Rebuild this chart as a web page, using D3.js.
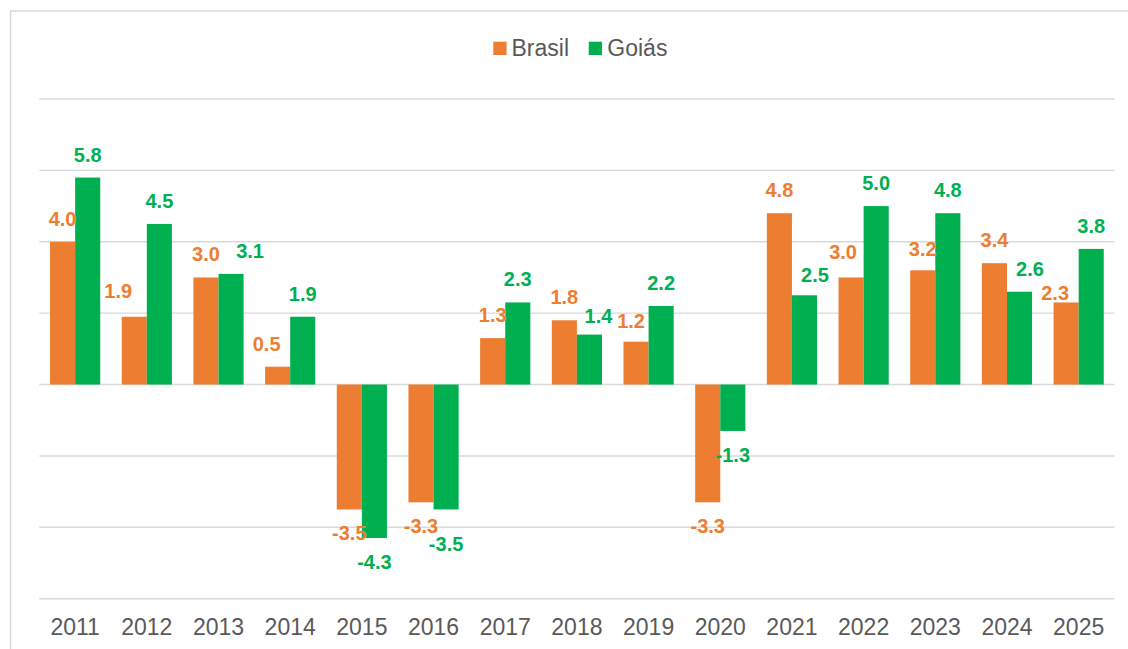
<!DOCTYPE html>
<html>
<head>
<meta charset="utf-8">
<script src="https://cdn.jsdelivr.net/npm/d3@7"></script>
<style>
  html, body { margin: 0; padding: 0; background: #fff; }
  svg { display: block; font-family: "Liberation Sans", Arial, sans-serif; }
</style>
</head>
<body>
<svg id="chart" width="1128" height="649"></svg>
<script>
// ---- data ----
const years = ["2011","2012","2013","2014","2015","2016","2017","2018","2019","2020","2021","2022","2023","2024","2025"];
const seriesNames = ["Brasil", "Goiás"];
const brasil = [4.0, 1.9, 3.0, 0.5, -3.5, -3.3, 1.3, 1.8, 1.2, -3.3, 4.8, 3.0, 3.2, 3.4, 2.3];
const goias  = [5.8, 4.5, 3.1, 1.9, -4.3, -3.5, 2.3, 1.4, 2.2, -1.3, 2.5, 5.0, 4.8, 2.6, 3.8];
const yTicks = [-6, -4, -2, 0, 2, 4, 6, 8];

// label nudges (manual placement in the original), px
const brasilLabelDx = [0, -16, 0, -11, 0, 0, 0, 0, -5, 0, 0, -8, 0, 0, -11];
const brasilLabelDy = [0, -2.5, 0, 0, 0, 0, 0, 0, 2.5, 0, 0, -2, 1.5, 0, 13.5];
const goiasLabelDx  = [0, 0, 19, 0, 0, 0, 0, 9, 0, 0, 10.5, 0, 0, 10.5, 0];
const goiasLabelDy  = [0, 0, 0, 0, 0, 11, 0, 4, 0, 0, 2.5, 0, 0, 0, 0];

const colors = { "Brasil": "#ED7D31", "Goiás": "#00B050" };

// ---- layout ----
const svg = d3.select("#chart");
const plotLeft = 39.3, plotRight = 1114.5, plotTop = 99, plotBottom = 598.7;

// frame
svg.append("rect")
  .attr("x", 10.5).attr("y", 11).attr("width", 1140).attr("height", 700)
  .attr("fill", "none").attr("stroke", "#d9d9d9").attr("stroke-width", 1.5);

const x = d3.scaleBand().domain(years).range([plotLeft, plotRight])
  .paddingInner(0.3).paddingOuter(0.15);
const x1 = d3.scaleBand().domain(seriesNames).range([0, x.bandwidth()]).padding(0);
const y = d3.scaleLinear().domain([-6, 8]).range([plotBottom, plotTop]);

// gridlines
svg.append("g").selectAll("line").data(yTicks).join("line")
  .attr("x1", plotLeft).attr("x2", plotRight)
  .attr("y1", d => y(d)).attr("y2", d => y(d))
  .attr("stroke", "#d9d9d9").attr("stroke-width", 1.4);

// bars
const series = [
  { name: "Brasil", values: brasil, dx: brasilLabelDx, dy: brasilLabelDy },
  { name: "Goiás", values: goias, dx: goiasLabelDx, dy: goiasLabelDy }
];

const rows = [];
series.forEach(s => {
  s.values.forEach((v, i) => rows.push({ name: s.name, year: years[i], v, dx: s.dx[i], dy: s.dy[i] }));
});

svg.append("g").selectAll("rect").data(rows).join("rect")
  .attr("x", d => x(d.year) + x1(d.name))
  .attr("width", x1.bandwidth())
  .attr("y", d => Math.min(y(d.v), y(0)))
  .attr("height", d => Math.abs(y(d.v) - y(0)))
  .attr("fill", d => colors[d.name]);

// value labels
svg.append("g").selectAll("text").data(rows).join("text")
  .attr("x", d => x(d.year) + x1(d.name) + x1.bandwidth() / 2 + d.dx)
  .attr("y", d => (d.v >= 0 ? y(d.v) - 16 : y(d.v) + 31) + d.dy)
  .attr("text-anchor", "middle")
  .attr("font-size", 20).attr("font-weight", "bold")
  .attr("fill", d => colors[d.name])
  .text(d => d.v.toFixed(1));

// x axis labels
const xAxis = d3.axisBottom(x).tickSize(0).tickPadding(0);
const gx = svg.append("g").attr("transform", `translate(0, ${plotBottom})`).call(xAxis);
gx.select(".domain").remove();
gx.selectAll("text")
  .attr("dy", null).attr("y", 36.8)
  .attr("font-size", 23).attr("fill", "#595959")
  .attr("font-family", "'Liberation Sans', Arial, sans-serif");

// legend
const legendItems = [
  { name: "Brasil", sx: 493.3, tx: 511.5 },
  { name: "Goiás", sx: 588.7, tx: 607.3 }
];
const lg = svg.append("g");
lg.selectAll("rect").data(legendItems).join("rect")
  .attr("x", d => d.sx).attr("y", 41.7).attr("width", 13.3).attr("height", 13.3)
  .attr("fill", d => colors[d.name]);
lg.selectAll("text").data(legendItems).join("text")
  .attr("x", d => d.tx).attr("y", 56)
  .attr("font-size", 23).attr("fill", "#595959")
  .text(d => d.name);
</script>
</body>
</html>
